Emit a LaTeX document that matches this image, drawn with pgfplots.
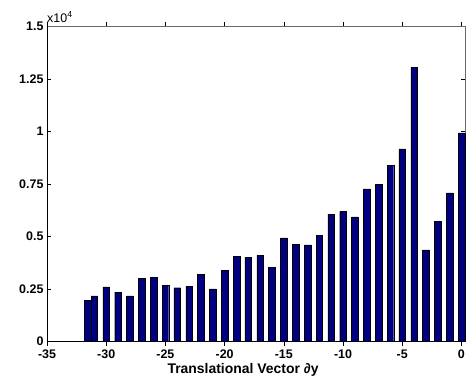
\documentclass[border=0pt]{standalone}
\usepackage{pgfplots}
\pgfplotsset{compat=1.18}
\usepackage{fontspec}
\setmainfont{Liberation Sans}
\definecolor{barnavy}{RGB}{0,0,128}
\definecolor{framegray}{RGB}{105,105,105}

% counts per translational offset
\pgfplotstableread{
x       count
-31.55  1960
-31     2170
-30     2600
-29     2350
-28     2170
-27     3010
-26     3050
-25     2690
-24     2560
-23     2640
-22     3200
-21     2510
-20     3390
-19     4060
-18     4010
-17     4100
-16     3530
-15     4930
-14     4640
-13     4600
-12     5070
-11     6060
-10     6200
-9      5940
-8      7270
-7      7480
-6      8400
-5      9170
-4      13060
-3      4360
-2      5710
-1      7080
0       9940
}\offsets

\begin{document}
\begin{tikzpicture}
\begin{axis}[
  scale only axis, width=418bp, height=315bp,
  xmin=-35, xmax=0.3, ymin=0, ymax=15000,
  xtick={-35,-30,...,0},
  xticklabels={-35,-30,-25,-20,-15,-10,-5,0},
  ytick={0,2500,5000,7500,10000,12500,15000},
  yticklabels={0,0.25,0.5,0.75,1,1.25,1.5},
  scaled y ticks=false,
  tick align=inside, major tick length=4bp,
  tick style={black, line width=0.6bp},
  axis line style={framegray, line width=0.8bp},
  ticklabel style={font=\bfseries\fontsize{12.5}{13}\selectfont},
  xticklabel style={yshift=-1bp},
  xlabel={Translational Vector ∂y},
  xlabel style={font=\bfseries\fontsize{14}{15}\selectfont,
    at={(axis description cs:0.469,-0.1)}, anchor=base},
  ybar, bar width=0.56,
  clip=false,
]
\addplot[fill=barnavy, draw=black, line width=0.4bp] table[x=x, y=count] {\offsets};
\draw[black, line width=0.8bp] (rel axis cs:0,1) -- (rel axis cs:0,0) -- (rel axis cs:1,0);
\coordinate (bl) at (rel axis cs:0,0);
\coordinate (tl) at (rel axis cs:0,1);
\end{axis}
\node[anchor=south west, inner sep=0pt, font=\fontsize{12.5}{13}\selectfont] at ([yshift=4bp]tl) {x10\textsuperscript{4}};
\path (bl) ++(-47bp,-41.5bp) rectangle ++(472bp,383bp);
\end{tikzpicture}
\end{document}
